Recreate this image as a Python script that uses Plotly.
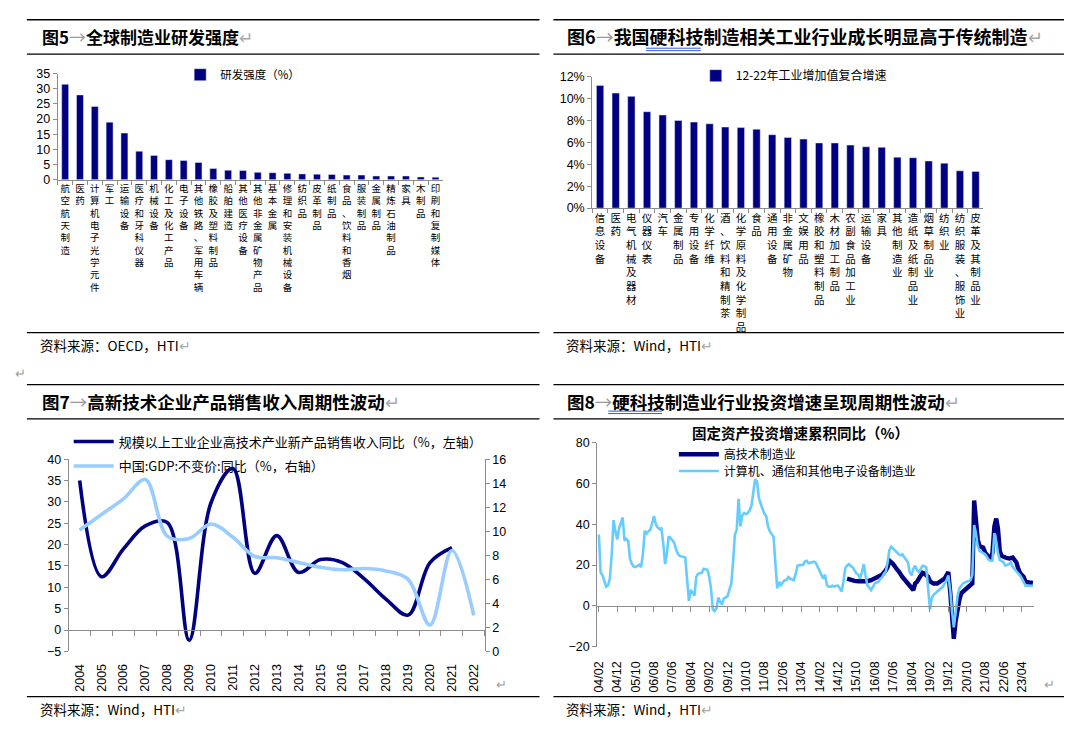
import plotly.graph_objects as go

W, H = 1073, 732


def fx(px):
    return px / W


def fy(py):
    return 1 - py / H


FONT = "Liberation Sans, Arial, Noto Sans CJK SC, sans-serif"
CJK = "Noto Sans CJK SC, Liberation Sans, sans-serif"
NAVY = "#000080"
LIGHT7 = "#99CCFF"
LIGHT8 = "#66CCFF"
AX = "#8C8C8C"
GREY_MARK = "#A0A0A0"

# ---------------- Fig 5: global manufacturing R&D intensity ----------------
rd_categories = ["航空航天制造", "医药", "计算机电子光学元件", "军工", "运输设备", "医疗和牙科仪器",
                 "机械设备", "化工及化工产品", "电子设备", "其他铁路、军用车辆", "橡胶及塑料制品",
                 "船舶建造", "其他医疗设备", "其他非金属矿物产品", "基本金属", "修理和安装机械设备",
                 "纺织品", "皮革制品", "纸制品", "食品、饮料和香烟", "服装制品", "金属制品",
                 "精炼石油制品", "家具", "木制品", "印刷和复制媒体"]
rd_intensity = [31.5, 28.0, 24.2, 19.0, 15.4, 9.4, 8.0, 6.6, 6.3, 5.7, 3.7, 3.1, 3.0, 2.4, 2.3,
                2.1, 1.9, 1.8, 1.7, 1.5, 1.5, 1.2, 1.2, 1.2, 0.9, 0.8]

# ---------------- Fig 6: 2012-22 value-added CAGR ----------------
va_categories = ["信息设备", "医药", "电气机械及器材", "仪器仪表", "汽车", "金属制品", "专用设备",
                 "化学纤维", "酒、饮料和精制茶", "化学原料及化学制品", "食品", "通用设备", "非金属矿物",
                 "文娱用品", "橡胶和塑料制品", "木材加工制品", "农副食品加工业", "运输设备", "家具",
                 "其他制造业", "造纸及纸制品业", "烟草制品业", "纺织业", "纺织服装、服饰业", "皮革及其制品业"]
va_cagr = [11.2, 10.5, 10.2, 8.8, 8.5, 8.0, 7.85, 7.7, 7.4, 7.35, 7.2, 6.7, 6.45, 6.3, 5.95,
           5.95, 5.75, 5.6, 5.55, 4.65, 4.6, 4.3, 4.1, 3.4, 3.35]

# ---------------- Fig 7: hi-tech new product sales vs GDP ----------------
years = ["2004", "2005", "2006", "2007", "2008", "2009", "2010", "2011", "2012", "2013",
         "2014", "2015", "2016", "2017", "2018", "2019", "2020", "2021", "2022"]
hitech_sales_yoy = [35.0, 12.5, 19.0, 24.4, 25.2, -2.4, 29.8, 37.8, 13.3, 22.1, 13.5, 16.5,
                    15.8, 12.0, 7.2, 3.5, 15.8, 19.3, None]
gdp_yoy = [10.1, 11.4, 12.7, 14.3, 9.6, 9.4, 10.6, 9.5, 7.9, 7.8, 7.4, 7.0, 6.8, 6.9, 6.7,
           6.0, 2.2, 8.4, 3.0]

# ---------------- Fig 8: fixed-asset investment, cumulative YoY ----------------
inv_tick_labels = ["04/02", "04/12", "05/10", "06/08", "07/06", "08/04", "09/02", "09/12",
                   "10/10", "11/08", "12/06", "13/04", "14/02", "14/12", "15/10", "16/08",
                   "17/06", "18/04", "19/02", "19/12", "20/10", "21/08", "22/06", "23/04"]
# months counted from 2004-02
ict_months = [0, 1, 2, 3, 4, 5, 6, 7, 8, 9, 10, 11, 12, 13, 14, 15, 16, 17, 18, 19, 20, 21, 22,
              23, 24, 25, 26, 27, 28, 29, 30, 31, 32, 33, 34, 35, 36, 37, 38, 39, 40, 41, 42,
              43, 44, 45, 46, 47, 48, 49, 50, 51, 52, 53, 54, 55, 56, 57, 58, 59, 60, 61, 62,
              63, 64, 65, 66, 67, 68, 69, 70, 71, 72, 73, 74, 75, 76, 77, 78, 79, 80, 81, 82,
              83, 84, 85, 86, 87, 88, 89, 90, 91, 92, 93, 94, 95, 96, 97, 98, 99, 100, 101,
              102, 103, 104, 105, 106, 107, 108, 109, 110, 111, 112, 113, 114, 115, 116, 117,
              118, 119, 120, 121, 122, 123, 124, 125, 126, 127, 128, 129, 130, 131, 132, 133,
              134, 135, 136, 137, 138, 139, 140, 141, 142, 143, 144, 145, 146, 147, 148, 149,
              150, 151, 152, 153, 154, 155, 156, 157, 158, 159, 160, 161, 162, 163, 164, 165,
              166, 167, 168, 169, 170, 171, 172, 173, 174, 175, 176, 177, 178, 179, 180, 181,
              182, 183, 184, 185, 186, 187, 188, 189, 190, 191, 192, 193, 194, 195, 196, 197,
              198, 199, 200, 201, 202, 203, 204, 205, 206, 207, 208, 209, 210, 211, 212, 213,
              214, 215, 216, 217, 218, 219, 220, 221, 222, 223, 224, 225, 226, 227, 228, 229,
              230, 231, 232, 233, 234, 235, 236]
ict_fai_yoy = [35, 16.6, 15, 12, 9.4, 10, 13.4, 25.3, 42, 36.5, 32.5, 38, 41, 43.3, 32, 32.8,
               31.7, 22.9, 20.5, 19.3, 19, 19.5, 20.2, 19, 26, 36.8, 35.5, 36.5, 37.3, 40.4, 44,
               40, 38.4, 37.6, 38, 30.9, 20.5, 25.3, 34, 33.3, 32, 31, 27.7, 25.5, 24.5, 24.2,
               24, 23.7, 12.6, 2.5, 7.8, 6.2, 5.1, 14.2, 15.8, 16, 16.2, 18.2, 18, 17.7, 14.2,
               8.6, -1.8, -2.5, -1, 4.1, 2, 0.6, 3.8, 4.1, 4.9, 8, 11, 21.3, 34.9, 37.3, 52.4,
               38.9, 44.4, 45.5, 44.9, 45.5, 46.8, 49.2, 56.4, 62, 61, 53.2, 50, 47.1, 45.2, 44,
               38.9, 36.5, 34.9, 33.8, 20.5, 8.6, 11.8, 10.2, 11.5, 12.6, 12.6, 14.2, 13.4, 13,
               12.6, 15.8, 19.7, 20, 20.1, 20.1, 21.7, 22.1, 20.9, 21.3, 21.5, 21.7, 21, 19,
               17.5, 15.8, 13.4, 15.3, 10.2, 9.4, 9.4, 9.9, 9.5, 9.9, 10, 8.6, 7, 12, 18.5,
               19.7, 20.5, 19.5, 19, 17.4, 16, 15.3, 13.4, 16.6, 20.5, 15, 10.2, 9, 7.8, 9.4,
               11, 11.5, 11.8, 13.4, 14, 15.8, 16.9, 21.3, 27.4, 29, 28, 26.9, 25.8, 25.3, 24.8,
               25.3, 24, 22.9, 21.3, 16.6, 15, 18.2, 19.7, 17.5, 16.6, 18.2, 19.7, 19.5, 19,
               8.6, -1.8, 3.8, 5.4, 6.2, 7, 7.5, 8.6, 9.5, 11, 12.5, 15, 8, -2.5, -10.5, -3,
               4.6, 8.6, 10, 11, 11.5, 11.8, 12, 12.6, 15, 39.6, 35.7, 29.3, 27, 26.5, 26,
               25.3, 24, 22.5, 22.1, 22.1, 35.7, 31.7, 26, 22.5, 22, 21.3, 19.7, 20, 20.5,
               21.3, 19, 18, 17, 16, 15, 13.5, 12, 9.9, 9.9, 9.9, 9.9, 9.9]
hitech_months = [135, 136, 137, 139, 141, 144, 146, 148, 151, 154, 156, 157, 158, 159, 160, 162,
                 163, 165, 168, 170, 171, 172, 173, 174, 175, 176, 177, 179, 180, 182, 184, 186,
                 188, 189, 190, 191, 192, 193, 194, 195, 196, 197, 199, 200, 202, 203, 204, 205,
                 206, 207, 209, 210, 212, 213, 214, 215, 216, 217, 218, 219, 221, 223, 225, 226,
                 227, 228, 229, 231, 232, 234, 236]
hitech_fai_yoy = [13.4, 13, 12.6, 12.3, 12.1, 12, 12.1, 12.6, 13.7, 15.3, 17.5, 19, 22.1, 21.5,
                  20.5, 18, 17, 14.2, 11, 8.6, 7.8, 11, 11.8, 13.4, 14.5, 16.2, 15.8, 14.2,
                  12.1, 11, 11, 12.1, 13.4, 15, 16.6, 7, -4.1, -16.1, -7.3, -1, 3, 6.2, 7.8,
                  8.9, 10.2, 11, 51.6, 42, 32.5, 29.3, 28.5, 26.1, 23.7, 22.9, 26.1, 38.9,
                  42.8, 38, 26.9, 24.5, 23.7, 23.2, 23.7, 22, 21.3, 18.2, 16.2, 14.2, 11.8,
                  11.5, 11.3]


def month_date(m):
    y, mo = divmod(1 + m, 12)
    return f"{2004 + y}-{mo + 1:02d}-01"


def label_date(lbl):
    yy, mm = lbl.split("/")
    return f"20{yy}-{mm}-01"


def vert(s):
    return "<br>".join(list(s))


fig = go.Figure()

# Fig 5 bars
fig.add_trace(go.Bar(x=rd_categories, y=rd_intensity, marker_color=NAVY, name="研发强度（%）",
                     xaxis="x", yaxis="y", legend="legend"))
# Fig 6 bars
fig.add_trace(go.Bar(x=va_categories, y=va_cagr, marker_color=NAVY, name="12-22年工业增加值复合增速",
                     xaxis="x2", yaxis="y2", legend="legend2"))
# Fig 7 lines
fig.add_trace(go.Scatter(x=years, y=hitech_sales_yoy, mode="lines",
                         line=dict(color=NAVY, width=3.6, shape="spline", smoothing=1.0),
                         name="规模以上工业企业高技术产业新产品销售收入同比（%，左轴）",
                         xaxis="x3", yaxis="y3", legend="legend3"))
fig.add_trace(go.Scatter(x=years, y=gdp_yoy, mode="lines",
                         line=dict(color=LIGHT7, width=3.6, shape="spline", smoothing=1.0),
                         name="中国:GDP:不变价:同比（%，右轴）",
                         xaxis="x3", yaxis="y4", legend="legend4"))
fig.add_trace(go.Scatter(x=years, y=[None] * len(years), mode="lines", showlegend=False,
                         hoverinfo="skip", xaxis="x5", yaxis="y3"))
# Fig 8 lines
fig.add_trace(go.Scatter(x=[month_date(m) for m in hitech_months], y=hitech_fai_yoy, mode="lines",
                         line=dict(color=NAVY, width=4.4), name="高技术制造业",
                         xaxis="x4", yaxis="y5", legend="legend5"))
fig.add_trace(go.Scatter(x=[month_date(m) for m in ict_months], y=ict_fai_yoy, mode="lines",
                         line=dict(color=LIGHT8, width=2.6), name="计算机、通信和其他电子设备制造业",
                         xaxis="x4", yaxis="y5", legend="legend6"))
fig.add_trace(go.Scatter(x=[month_date(0)], y=[None], mode="lines", showlegend=False,
                         hoverinfo="skip", xaxis="x6", yaxis="y5"))

tickfont = dict(family=FONT, size=12.5, color="black")
common_y = dict(showline=True, linecolor=AX, linewidth=1, ticks="outside", ticklen=4,
                tickcolor=AX, showgrid=False, zeroline=False, tickfont=tickfont)

# positions of the zero lines
y3_dom = [fy(657), fy(461)]
y3_rng = [-5, 40]
zero7 = y3_dom[0] + (0 - y3_rng[0]) / (y3_rng[1] - y3_rng[0]) * (y3_dom[1] - y3_dom[0])
y5_dom = [fy(652.3), fy(444)]
y5_rng = [-20, 80]
zero8 = y5_dom[0] + (0 - y5_rng[0]) / (y5_rng[1] - y5_rng[0]) * (y5_dom[1] - y5_dom[0])

x8_range = ["2004-01-05", "2023-10-22"]
x8_ticks = [label_date(t) for t in inv_tick_labels]

fig.update_layout(
    width=W, height=H, margin=dict(l=0, r=0, t=0, b=0),
    paper_bgcolor="white", plot_bgcolor="white",
    font=dict(family=FONT, size=12, color="black"),
    bargap=0.53,
    showlegend=True,
    xaxis=dict(domain=[fx(53), fx(440)], anchor="y", type="category",
               tickvals=rd_categories, ticktext=[vert(c) for c in rd_categories],
               tickangle=0, tickfont=dict(family=CJK, size=9.5, color="black"),
               showline=True, linecolor=AX, ticks="outside", tickson="boundaries",
               ticklen=4, tickcolor=AX, showgrid=False),
    yaxis=dict(domain=[fy(176), fy(68)], anchor="x", range=[0, 35], dtick=5, **common_y),
    xaxis2=dict(domain=[fx(590), fx(983)], anchor="y2", type="category",
                tickvals=va_categories, ticktext=[vert(c) for c in va_categories],
                tickangle=0, tickfont=dict(family=CJK, size=10.5, color="black"),
                showline=True, linecolor=AX, ticks="outside", tickson="boundaries",
                ticklen=4, tickcolor=AX, showgrid=False),
    yaxis2=dict(domain=[fy(205), fy(71)], anchor="x2", range=[0, 12], dtick=2,
                ticksuffix="%", **common_y),
    xaxis3=dict(domain=[fx(64), fx(482)], anchor="y3", type="category",
                categoryorder="array", categoryarray=years, range=[-0.5, 18.5],
                showline=False, ticks="", tickangle=-90, tickfont=tickfont,
                ticklabelstandoff=9, showgrid=False, zeroline=False),
    yaxis3=dict(domain=y3_dom, anchor="x3", range=y3_rng, dtick=5, **common_y),
    yaxis4=dict(overlaying="y3", side="right", anchor="x3", range=[0, 16], dtick=2, **common_y),
    xaxis5=dict(overlaying="x3", anchor="free", position=zero7, type="category",
                categoryorder="array", categoryarray=years, range=[-0.5, 18.5],
                showline=True, linecolor=AX, ticks="outside", tickson="boundaries",
                ticklen=5, tickcolor=AX, showticklabels=False, showgrid=False),
    xaxis4=dict(domain=[fx(595), fx(1034)], anchor="y5", type="date", range=x8_range,
                tickvals=x8_ticks, ticktext=inv_tick_labels, tickangle=-90, ticks="",
                showline=False, tickfont=tickfont, ticklabelstandoff=11, showgrid=False),
    yaxis5=dict(domain=y5_dom, anchor="x4", range=y5_rng, dtick=20, **common_y),
    xaxis6=dict(overlaying="x4", anchor="free", position=zero8, type="date", range=x8_range,
                tickvals=x8_ticks, ticks="outside", ticklen=5, tickcolor=AX,
                showline=True, linecolor=AX, showticklabels=False, showgrid=False),
    legend=dict(x=fx(176), y=fy(69), xanchor="left", yanchor="middle", bgcolor="rgba(0,0,0,0)",
                font=dict(family=CJK, size=11.5), itemwidth=30),
    legend2=dict(x=fx(694), y=fy(70), xanchor="left", yanchor="middle", bgcolor="rgba(0,0,0,0)",
                 font=dict(family=CJK, size=12), itemwidth=30),
    legend3=dict(x=fx(64), y=fy(443), xanchor="left", yanchor="middle", bgcolor="rgba(0,0,0,0)",
                 font=dict(family=CJK, size=13), itemwidth=40),
    legend4=dict(x=fx(64), y=fy(468), xanchor="left", yanchor="middle", bgcolor="rgba(0,0,0,0)",
                 font=dict(family=CJK, size=13), itemwidth=40),
    legend5=dict(x=fx(672), y=fy(456), xanchor="left", yanchor="middle", bgcolor="rgba(0,0,0,0)",
                 font=dict(family=CJK, size=12), itemwidth=40),
    legend6=dict(x=fx(672), y=fy(473), xanchor="left", yanchor="middle", bgcolor="rgba(0,0,0,0)",
                 font=dict(family=CJK, size=12), itemwidth=40),
)

# document-style rules
shapes = []
for y in [13, 48, 332, 385, 420, 703]:
    shapes.append(dict(type="line", xref="paper", yref="paper", x0=fx(22), x1=fx(537),
                       y0=fy(y), y1=fy(y), line=dict(color="black", width=1.3)))
    shapes.append(dict(type="line", xref="paper", yref="paper", x0=fx(551), x1=fx(1064),
                       y0=fy(y), y1=fy(y), line=dict(color="black", width=1.3)))
# blue double underline under 硬科技
for (x0, x1, y) in [(644, 699, 42), (606, 660, 412)]:
    for dy in (0, 2.5):
        shapes.append(dict(type="line", xref="paper", yref="paper", x0=fx(x0), x1=fx(x1),
                           y0=fy(y + dy), y1=fy(y + dy), line=dict(color="#2F5FD0", width=1)))
fig.update_layout(shapes=shapes)

arrow = "<span style='color:#9A9A9A'>→</span>"
ret = "<span style='color:#A8A8A8'>↵</span>"


def ann(text, x, y, size, xanchor="left", family=CJK, color="black"):
    fig.add_annotation(text=text, x=fx(x), y=fy(y), xref="paper", yref="paper",
                       xanchor=xanchor, yanchor="middle", showarrow=False,
                       font=dict(family=family, size=size, color=color))


ann("<b>图5</b>" + arrow + "<b>全球制造业研发强度</b>" + ret, 35, 30, 17)
ann("<b>图6</b>" + arrow + "<b>我国硬科技制造相关工业行业成长明显高于传统制造</b>" + ret, 563, 30, 18)
ann("<b>图7</b>" + arrow + "<b>高新技术企业产品销售收入周期性波动</b>" + ret, 35, 402, 17.5)
ann("<b>图8</b>" + arrow + "<b>硬科技制造业行业投资增速呈现周期性波动</b>" + ret, 563, 402, 17.5)
ann("资料来源：OECD，HTI" + ret, 33, 345, 13.5)
ann("资料来源：Wind，HTI" + ret, 562, 345, 13.5)
ann("资料来源：Wind，HTI" + ret, 33, 716, 13.5)
ann("资料来源：Wind，HTI" + ret, 562, 716, 13.5)
ann("<b>固定资产投资增速累积同比（%）</b>", 799, 434, 14.5, xanchor="center")
ann("↵", 8, 373, 13, color=GREY_MARK)
ann("↵", 491, 690, 13, color=GREY_MARK)
ann("↵", 1042, 690, 13, color=GREY_MARK)

fig.write_html(
    "out.html",
    config={"displayModeBar": False},
    post_script="document.body.style.margin='0px';document.body.style.padding='0px';"
                "document.body.style.overflow='hidden';",
)
